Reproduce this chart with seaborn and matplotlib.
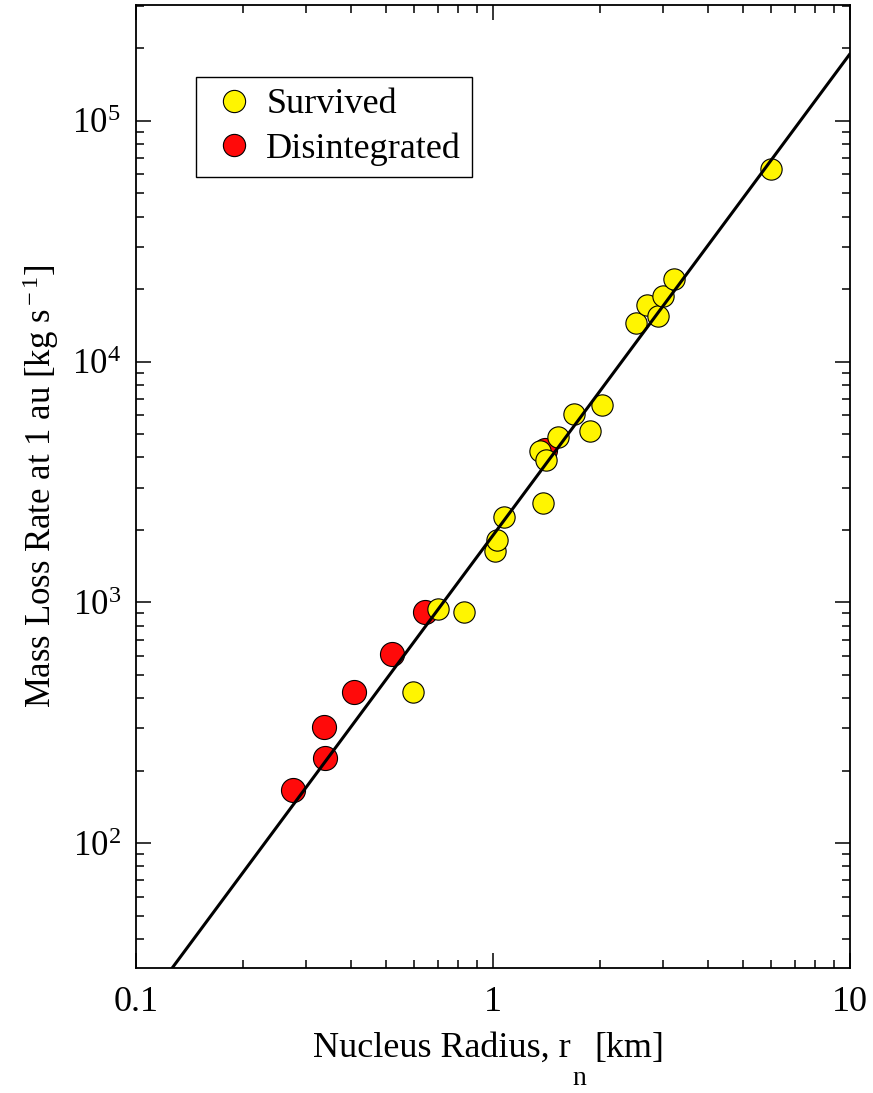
import numpy as np
import pandas as pd
import matplotlib
matplotlib.use("Agg")
import matplotlib.pyplot as plt
import seaborn as sns
from matplotlib.lines import Line2D
from matplotlib.ticker import LogLocator, FixedLocator, FixedFormatter, NullFormatter, LogFormatterMathtext

# ---- data ----
survived_r = [0.596, 0.700, 0.831, 1.013, 1.024, 1.071, 1.383, 1.357, 1.407, 1.517,
              1.683, 1.874, 2.016, 2.515, 2.70, 2.904, 2.988, 3.21, 6.01]
survived_m = [425, 942, 910, 1633, 1814, 2268, 2592, 4245, 3920, 4850,
              6067, 5140, 6633, 14480, 17240, 15420, 18660, 22040, 63240]
disint_r = [0.275, 0.339, 0.337, 0.409, 0.521, 0.645, 1.40]
disint_m = [166, 225, 304, 425, 608, 912, 4300]
fit_r = [0.1, 10.0]
fit_m = [19.0, 1.9e5]
x_ticks = [0.1, 1, 10]
x_tick_labels = ["0.1", "1", "10"]
y_ticks = [1e2, 1e3, 1e4, 1e5]
categories = ["Survived", "Disintegrated"]
colors = {"Survived": "#fff500", "Disintegrated": "#ff0a0a"}

sns.set_theme(style="ticks")
plt.rcParams["font.family"] = ["Liberation Serif", "DejaVu Serif"]
plt.rcParams["mathtext.fontset"] = "custom"
plt.rcParams["mathtext.rm"] = "Liberation Serif"
plt.rcParams["mathtext.it"] = "Liberation Serif:italic"
for k in ["text.color", "axes.labelcolor", "xtick.color", "ytick.color", "axes.edgecolor"]:
    plt.rcParams[k] = "black"

df_s = pd.DataFrame({"r": survived_r, "m": survived_m, "status": "Survived"})
df_d = pd.DataFrame({"r": disint_r, "m": disint_m, "status": "Disintegrated"})
df_fit = pd.DataFrame({"r": fit_r, "m": fit_m})

W, H = 873, 1093
fig = plt.figure(figsize=(W / 100, H / 100), dpi=100)
ax = fig.add_axes([136 / W, 1 - 968 / H, 714 / W, 963 / H])

sns.scatterplot(data=df_d, x="r", y="m", color=colors["Disintegrated"], s=300,
                edgecolor="black", linewidth=0.8, ax=ax, zorder=2, legend=False)
sns.scatterplot(data=df_s, x="r", y="m", color=colors["Survived"], s=235,
                edgecolor="black", linewidth=0.8, ax=ax, zorder=3, legend=False)
sns.lineplot(data=df_fit, x="r", y="m", color="black", linewidth=2.2, ax=ax, zorder=4)

ax.set_xscale("log")
ax.set_yscale("log")
ax.set_xlim(0.1, 10)
ax.set_ylim(30.3, 3.03e5)

ax.xaxis.set_major_locator(FixedLocator(x_ticks))
ax.xaxis.set_major_formatter(FixedFormatter(x_tick_labels))
ax.xaxis.set_minor_locator(LogLocator(base=10, subs=np.arange(2, 10)))
ax.xaxis.set_minor_formatter(NullFormatter())
ax.yaxis.set_major_locator(FixedLocator(y_ticks))
ax.yaxis.set_major_formatter(LogFormatterMathtext())
ax.yaxis.set_minor_locator(LogLocator(base=10, subs=np.arange(2, 10), numticks=20))
ax.yaxis.set_minor_formatter(NullFormatter())

ax.tick_params(which="both", direction="in", top=True, right=True, color="black", width=1.1)
ax.tick_params(which="major", length=11)
ax.tick_params(which="minor", length=6)
ax.tick_params(axis="x", which="major", labelsize=26, pad=13)
ax.tick_params(axis="y", which="major", labelsize=25, pad=11)
for sp in ax.spines.values():
    sp.set_linewidth(1.3)
    sp.set_color("black")

ax.set_xlabel("")
ax.set_ylabel(r"Mass Loss Rate at 1 au [kg s$^{\rm -1}$]", fontsize=25, labelpad=8)

# x-axis label with a dropped subscript, as in the reference
t1 = fig.text(313 / W, 1 - 1057 / H, "Nucleus Radius, r", fontsize=26,
              ha="left", va="baseline")
ax.annotate("n", xy=(1, 0), xycoords=t1, xytext=(1.5, -14.5), textcoords="offset points",
            fontsize=20, ha="left", va="baseline", annotation_clip=False)
ax.annotate("[km]", xy=(1, 0), xycoords=t1, xytext=(17, 0), textcoords="offset points",
            fontsize=26, ha="left", va="bottom", annotation_clip=False)

handles = [Line2D([], [], marker="o", linestyle="", markersize=16,
                  markerfacecolor=colors[c], markeredgecolor="black", markeredgewidth=0.8)
           for c in categories]
leg = ax.legend(handles, categories, loc="upper left", bbox_to_anchor=(0.084, 0.925),
                fontsize=26, frameon=True, fancybox=False, framealpha=1,
                edgecolor="black", handletextpad=0.15, borderpad=0.3,
                labelspacing=0.3, handlelength=1.5, borderaxespad=0)
leg.get_frame().set_linewidth(1.0)

fig.savefig("out.png", dpi=100)
